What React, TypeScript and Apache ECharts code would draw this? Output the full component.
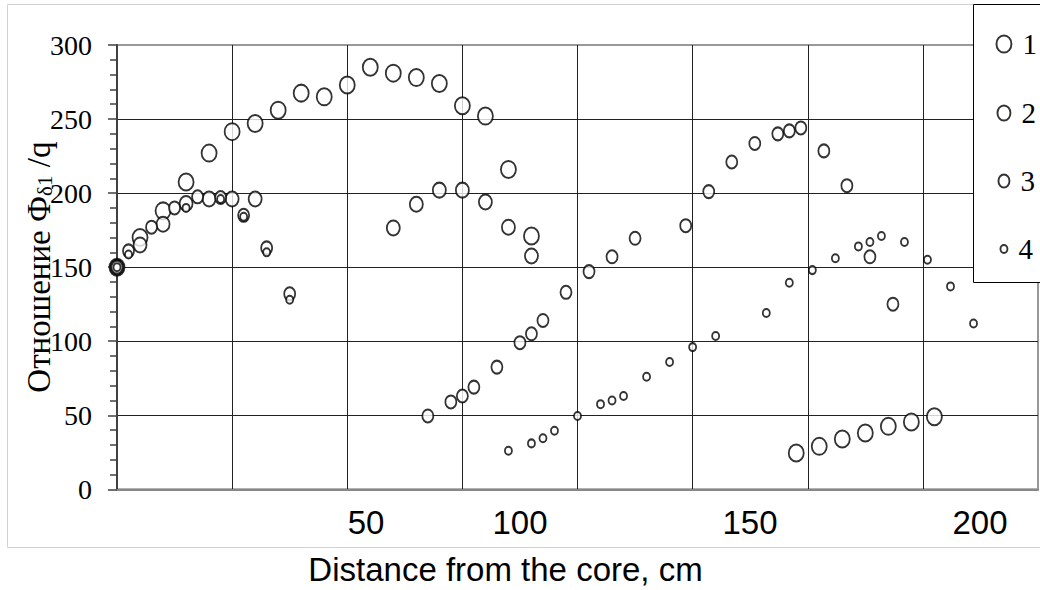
import React, { useEffect, useRef } from "react";
import * as echarts from "echarts";

// ---- data (distance in cm, ratio value) ----
const seriesNames = ["1", "2", "3", "4"];

const s1X = [0, 5, 10, 15, 20, 25, 30, 35, 40, 45, 50, 55, 60, 65, 70, 75, 80, 85, 90, 147.5, 152.5, 157.5, 162.5, 167.5, 172.5, 177.5];
const s1Y = [150, 170, 188, 207.5, 227, 241.5, 247, 256, 267.5, 265, 273, 285, 281, 278, 274, 259, 252, 216, 171, 24.5, 29, 34, 38, 42.5, 45.5, 49];

const s2X = [0, 5, 10, 15, 20, 25, 30, 60, 65, 70, 75, 80, 85, 90];
const s2Y = [150, 165, 179, 193, 196, 196, 196, 176.5, 192.5, 202, 202, 194, 177, 157.5];

const s3X = [0, 2.5, 7.5, 12.5, 17.5, 22.5, 27.5, 32.5, 37.5, 67.5, 72.5, 75, 77.5, 82.5, 87.5, 90, 92.5, 97.5, 102.5, 107.5, 112.5, 123.5, 128.5, 133.5, 138.5, 143.5, 146, 148.5, 153.5, 158.5, 163.5, 168.5];
const s3Y = [150, 161, 177, 190, 197.5, 197, 185, 163, 132, 49.5, 59, 63, 69, 82.5, 99, 105, 114, 133, 147, 157, 169.5, 178, 201, 221, 233.5, 240, 242, 244, 228.5, 205, 157, 125];

const s4X = [0, 2.5, 15, 22.5, 27.5, 32.5, 37.5, 85, 90, 92.5, 95, 100, 105, 107.5, 110, 115, 120, 125, 130, 141, 146, 151, 156, 161, 163.5, 166, 171, 176, 181, 186];
const s4Y = [150, 158.5, 190, 196, 184, 160, 128, 26, 31, 34.5, 39.5, 49.5, 57.5, 60, 63, 76, 86, 96, 103.5, 119, 139.5, 148, 156, 164, 167, 171, 167, 155, 137, 112];

const xTickLabels = ["50", "100", "150", "200"];

// ---- layout / style ----
const xTickLabelPos = [366, 520, 750, 980];
const markerSizes = [
  [15, 17],
  [13, 15],
  [11, 13],
  [7, 8],
];
const legendCenters = [44, 113, 181, 249];
const ELLIPSE = "path://M0,50A50,50,0,1,1,100,50A50,50,0,1,1,0,50Z";

const zip = (xs: number[], ys: number[]) => xs.map((x, i) => [x, ys[i]]);
const allData = [zip(s1X, s1Y), zip(s2X, s2Y), zip(s3X, s3Y), zip(s4X, s4Y)];

export default function App() {
  const ref = useRef<HTMLDivElement>(null);
  useEffect(() => {
    if (!ref.current) return;
    const chart = echarts.init(ref.current, null, { renderer: "svg" });
    const markerStyle = { color: "#fff", borderColor: "#000", borderWidth: 1.9 };
    chart.setOption({
      animation: false,
      backgroundColor: "#fff",
      grid: {
        left: 117,
        top: 45,
        right: 2,
        bottom: 100.7,
        show: true,
        borderColor: "#999",
        borderWidth: 2,
        backgroundColor: "transparent",
        containLabel: false,
        outerBoundsMode: "none",
      },
      xAxis: {
        type: "value",
        min: 0,
        max: 200,
        interval: 25,
        name: "Distance from the core, cm",
        nameLocation: "middle",
        nameGap: 64,
        nameMoveOverlap: false,
        nameTextStyle: {
          fontFamily: "Liberation Sans",
          fontSize: 33,
          color: "#000",
          padding: [0, 144, 0, 0],
        },
        axisLine: { show: true, onZero: false, lineStyle: { color: "#888", width: 2 } },
        axisTick: { show: false },
        axisLabel: { show: false },
        splitLine: {
          show: true,
          showMinLine: false,
          showMaxLine: false,
          lineStyle: { color: "#222", width: 1 },
        },
      },
      yAxis: {
        type: "value",
        min: 0,
        max: 300,
        interval: 50,
        name: "Отношение Ф{s|δ1} /q",
        nameLocation: "middle",
        nameRotate: 90,
        nameGap: 62,
        nameMoveOverlap: false,
        nameTextStyle: {
          fontFamily: "Liberation Serif",
          fontSize: 33,
          color: "#000",
          rich: {
            s: { fontFamily: "Liberation Serif", fontSize: 21, color: "#000", padding: [12, 0, 0, 0] },
          },
        },
        axisLine: { show: true, onZero: false, lineStyle: { color: "#404040", width: 2 } },
        axisTick: { show: true, length: 9, lineStyle: { color: "#404040", width: 1.5 } },
        minorTick: { show: true, splitNumber: 5, length: 7, lineStyle: { color: "#404040", width: 1.5 } },
        axisLabel: {
          fontFamily: "Liberation Serif",
          fontSize: 28,
          color: "#000",
          margin: 25,
          padding: [8, 0, 0, 0],
        },
        splitLine: {
          show: true,
          showMinLine: false,
          showMaxLine: false,
          lineStyle: { color: "#222", width: 1 },
        },
      },
      legend: seriesNames.map((name, i) => ({
        data: [{ name, icon: ELLIPSE, itemStyle: markerStyle }],
        orient: "vertical",
        left: 1003 - markerSizes[i][0] / 2,
        top: legendCenters[i] - 15,
        itemWidth: markerSizes[i][0],
        itemHeight: markerSizes[i][1],
        symbolKeepAspect: false,
        padding: 0,
        itemGap: 0,
        selectedMode: false,
        z: 20,
        itemStyle: markerStyle,
        textStyle: {
          fontFamily: "Liberation Serif",
          fontSize: 29,
          lineHeight: 30,
          color: "#000",
          padding: [0, 0, 0, 6],
        },
      })),
      graphic: [
        {
          type: "rect",
          silent: true,
          z: -10,
          shape: { x: 7.5, y: 4.5, width: 1040, height: 543 },
          style: { fill: "none", stroke: "#d0d0d0", lineWidth: 1 },
        },
        {
          type: "rect",
          silent: true,
          z: 10,
          shape: { x: 973.5, y: 4.5, width: 80, height: 278 },
          style: { fill: "#fff", stroke: "#000", lineWidth: 1 },
        },
        ...xTickLabels.map((t, i) => ({
          type: "text",
          silent: true,
          z: 5,
          x: xTickLabelPos[i],
          y: 522,
          style: {
            text: t,
            fill: "#000",
            fontFamily: "Liberation Sans",
            fontSize: 33,
            align: "center",
            verticalAlign: "middle",
          },
        })),
      ],
      series: seriesNames.map((name, i) => ({
        name,
        type: "scatter",
        data: allData[i],
        symbol: ELLIPSE,
        symbolSize: markerSizes[i],
        itemStyle: markerStyle,
        emphasis: { disabled: true },
        z: 2 + i,
      })),
    });
    return () => chart.dispose();
  }, []);
  return (
    <div
      ref={ref}
      style={{ position: "fixed", left: 0, top: 0, width: 1040, height: 590, background: "#fff" }}
    />
  );
}
